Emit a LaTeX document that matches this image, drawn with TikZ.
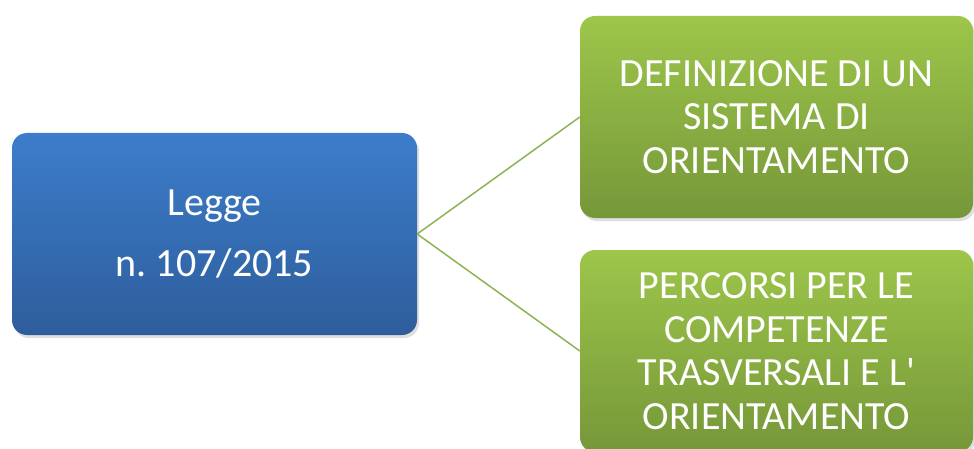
\documentclass[tikz,border=0pt]{standalone}
\usepackage{fontspec}
\setmainfont{Carlito}
\usetikzlibrary{shadows}
\definecolor{bluetop}{HTML}{3C7DCB}
\definecolor{bluebot}{HTML}{2E5D9B}
\definecolor{greentop}{HTML}{9DC64A}
\definecolor{greenbot}{HTML}{769739}
\definecolor{linkgreen}{HTML}{8DB354}
\tikzset{
	box/.style={rounded corners=15pt, text=white, align=center, font=\fontsize{40}{43.5}\selectfont,
		drop shadow={shadow xshift=2pt, shadow yshift=-3pt, opacity=0.25}},
	lawbox/.style={box, top color=bluetop, bottom color=bluebot, minimum width=405pt, minimum height=202pt,
		font=\fontsize{40}{61}\selectfont},
	topicbox/.style={box, top color=greentop, bottom color=greenbot, minimum width=393pt, minimum height=202pt},
	link/.style={draw=linkgreen, line width=1.5pt}
}
\begin{document}
\begin{tikzpicture}[x=1pt, y=-1pt]
			%%%%% START %%%%%
			\useasboundingbox[fill=white] (0, 0) rectangle (974, 449);
			
			\node[lawbox] (legge) at (214.5, 234) {Legge\\n.\ 107/2015};
			
			\node[topicbox] (sistema) at (776.5, 117) {DEFINIZIONE DI UN\\SISTEMA DI\\ORIENTAMENTO};
			\node[topicbox] (percorsi) at (776.5, 351) {PERCORSI PER LE\\COMPETENZE\\TRASVERSALI E L\textquotesingle\\ORIENTAMENTO};
			
			\draw[link] (legge.east) -- (sistema.west);
			\draw[link] (legge.east) -- (percorsi.west);
			%%%%% END %%%%%
\end{tikzpicture}
\end{document}
